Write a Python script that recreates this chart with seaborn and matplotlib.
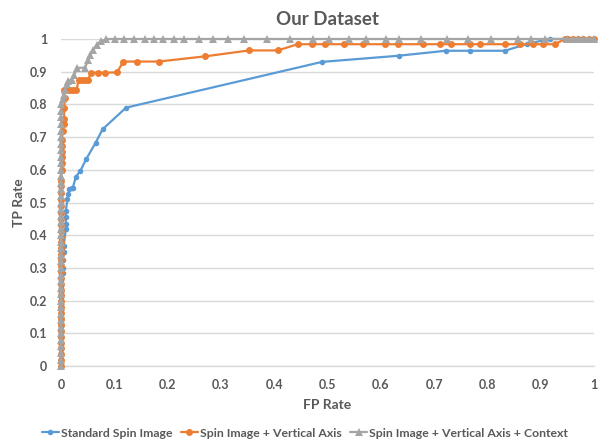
import matplotlib
matplotlib.use("Agg")
import matplotlib.pyplot as plt
import seaborn as sns
import pandas as pd
from matplotlib.lines import Line2D

# ---------------- data ----------------
series_names = ["Standard Spin Image", "Spin Image + Vertical Axis",
                "Spin Image + Vertical Axis + Context"]

blue_fp = [0, 0, 0, 0, 0, 0, 0, 0, 0, 0, 0, 0, 0, 0, 0, 0,
           0.003, 0.003, 0.004, 0.005, 0.005, 0.009, 0.009, 0.009, 0.009,
           0.012, 0.014, 0.015, 0.02, 0.022, 0.028, 0.036, 0.047, 0.065,
           0.078, 0.122, 0.49, 0.635, 0.722, 0.768, 0.833, 0.875, 0.917,
           0.95, 0.96, 0.97, 0.98, 0.99, 1.0]
blue_tp = [0, 0.018, 0.035, 0.053, 0.07, 0.088, 0.105, 0.123, 0.14, 0.158,
           0.175, 0.193, 0.21, 0.228, 0.245, 0.263,
           0.284, 0.30, 0.325, 0.35, 0.366, 0.42, 0.435, 0.455, 0.475,
           0.51, 0.525, 0.54, 0.545, 0.545, 0.579, 0.596, 0.632, 0.683,
           0.724, 0.79, 0.93, 0.949, 0.964, 0.964, 0.964, 0.985, 1.0,
           1.0, 1.0, 1.0, 1.0, 1.0, 1.0]

orange_fp = [0, 0, 0, 0, 0, 0, 0, 0, 0, 0, 0, 0, 0, 0, 0, 0, 0, 0, 0, 0,
             0, 0, 0, 0, 0, 0, 0, 0, 0, 0, 0, 0,
             0.001, 0.001, 0.001, 0.002, 0.002, 0.002, 0.003, 0.005, 0.006,
             0.006, 0.007, 0.005, 0.011, 0.017, 0.023, 0.029, 0.033, 0.039,
             0.045, 0.051, 0.056, 0.07, 0.083, 0.105, 0.117, 0.142, 0.183,
             0.271, 0.353, 0.407, 0.444, 0.471, 0.495, 0.531, 0.566, 0.608,
             0.632, 0.68, 0.712, 0.731, 0.768, 0.787, 0.833, 0.861, 0.885,
             0.905, 0.927, 0.946, 0.952, 0.961, 0.971, 0.98, 0.99, 1.0]
orange_tp = [0, 0.018, 0.036, 0.054, 0.072, 0.09, 0.108, 0.126, 0.144, 0.162,
             0.18, 0.198, 0.216, 0.234, 0.252, 0.27, 0.288, 0.306, 0.324,
             0.342, 0.36, 0.378, 0.396, 0.414, 0.432, 0.45, 0.468, 0.49,
             0.509, 0.53, 0.55, 0.565,
             0.6, 0.62, 0.64, 0.655, 0.673, 0.69, 0.72, 0.74, 0.755,
             0.79, 0.82, 0.843, 0.843, 0.843, 0.843, 0.843, 0.876, 0.876,
             0.876, 0.876, 0.897, 0.897, 0.897, 0.898, 0.931, 0.931, 0.931,
             0.947, 0.965, 0.965, 0.984, 0.984, 0.984, 0.984, 0.984, 0.984,
             0.984, 0.984, 0.984, 0.984, 0.984, 0.984, 0.984, 0.984, 0.984,
             0.984, 0.984, 1.0, 1.0, 1.0, 1.0, 1.0, 1.0, 1.0]

gray_fp = [0, 0, 0, 0, 0, 0, 0, 0, 0, 0, 0, 0, 0, 0, 0, 0, 0, 0, 0, 0,
           0, 0, 0, 0, 0, 0, 0, 0, 0, 0, 0, 0, 0, 0, 0, 0, 0, 0, 0, 0, 0,
           0.003, 0.005, 0.008, 0.011, 0.014, 0.02, 0.025, 0.03, 0.045,
           0.051, 0.055, 0.06, 0.067, 0.075, 0.085, 0.102, 0.118, 0.137,
           0.158, 0.175, 0.192, 0.212, 0.231, 0.258, 0.286, 0.314, 0.344,
           0.387, 0.429, 0.472, 0.502, 0.54, 0.573, 0.61, 0.634, 0.676,
           0.725, 0.763, 0.806, 0.858, 0.882, 0.909, 0.95, 0.96, 0.97,
           0.98, 0.99, 1.0]
gray_tp = [0, 0.02, 0.04, 0.06, 0.08, 0.1, 0.12, 0.14, 0.16, 0.18, 0.2,
           0.22, 0.24, 0.26, 0.28, 0.3, 0.32, 0.34, 0.36, 0.38, 0.4, 0.42,
           0.44, 0.46, 0.48, 0.5, 0.52, 0.54, 0.56, 0.58, 0.6, 0.62, 0.64,
           0.66, 0.68, 0.7, 0.72, 0.74, 0.76, 0.78, 0.8,
           0.815, 0.83, 0.845, 0.861, 0.873, 0.875, 0.89, 0.912, 0.912,
           0.935, 0.95, 0.965, 0.983, 0.993, 1.0, 1.0, 1.0, 1.0, 1.0, 1.0,
           1.0, 1.0, 1.0, 1.0, 1.0, 1.0, 1.0, 1.0, 1.0, 1.0, 1.0, 1.0, 1.0,
           1.0, 1.0, 1.0, 1.0, 1.0, 1.0, 1.0, 1.0, 1.0, 1.0, 1.0, 1.0, 1.0,
           1.0, 1.0]

tick_vals = [0, 0.1, 0.2, 0.3, 0.4, 0.5, 0.6, 0.7, 0.8, 0.9, 1]
tick_labels = ["0", "0.1", "0.2", "0.3", "0.4", "0.5", "0.6", "0.7", "0.8", "0.9", "1"]

colors = ["#5B9BD5", "#ED7D31", "#A5A5A5"]
markers = ["o", "o", "^"]
msizes = [4, 5, 5.5]

# ---------------- plotting ----------------
sns.set_theme(style="white")
plt.rcParams["font.family"] = ["Lato", "DejaVu Sans"]
plt.rcParams["font.weight"] = "bold"

fig, ax = plt.subplots(figsize=(6.06, 4.47), dpi=100)
fig.subplots_adjust(left=0.1007, right=0.980, top=0.9128, bottom=0.181)

data_sets = [(blue_fp, blue_tp), (orange_fp, orange_tp), (gray_fp, gray_tp)]
for i in range(3):
    fp, tp = data_sets[i]
    df = pd.DataFrame({"fp": fp, "tp": tp})
    sns.lineplot(data=df, x="fp", y="tp", sort=False, estimator=None,
                 color=colors[i], marker=markers[i], markersize=msizes[i],
                 markeredgewidth=0, linewidth=1.6, ax=ax, zorder=3 + i,
                 clip_on=False)

ax.set_xlim(0, 1)
ax.set_ylim(0, 1)
ax.set_xticks(tick_vals)
ax.set_xticklabels(tick_labels)
ax.set_yticks(tick_vals)
ax.set_yticklabels(tick_labels)

txt = "#595959"
ax.tick_params(axis="both", length=0, labelsize=9, labelcolor=txt)
ax.tick_params(axis="y", pad=10)
ax.tick_params(axis="x", pad=9)
for lab in ax.get_xticklabels() + ax.get_yticklabels():
    lab.set_fontweight("bold")

ax.yaxis.grid(True, color="#D9D9D9", linewidth=1)
ax.xaxis.grid(False)
for s in ["top", "right", "left"]:
    ax.spines[s].set_visible(False)
ax.spines["bottom"].set_color("#D9D9D9")
ax.spines["bottom"].set_linewidth(1)

ax.set_xlabel("FP Rate", fontsize=10, fontweight="bold", color=txt, labelpad=6)
ax.set_ylabel("TP Rate", fontsize=10, fontweight="bold", color=txt, labelpad=3)
ax.set_title("Our Dataset", fontsize=13.5, fontweight="bold", color=txt, pad=10)

handles = [Line2D([0], [0], color=colors[i], marker=markers[i],
                  markersize=msizes[i], markeredgewidth=0, linewidth=1.6)
           for i in range(3)]
fig.legend(handles, series_names, loc="center", bbox_to_anchor=(0.503, 0.031),
           ncol=3, frameon=False, handlelength=1.4,
           handletextpad=0.15, columnspacing=0.7, labelcolor=txt,
           prop={"weight": "bold", "size": 8.8})

fig.savefig("out.png", dpi=100)
